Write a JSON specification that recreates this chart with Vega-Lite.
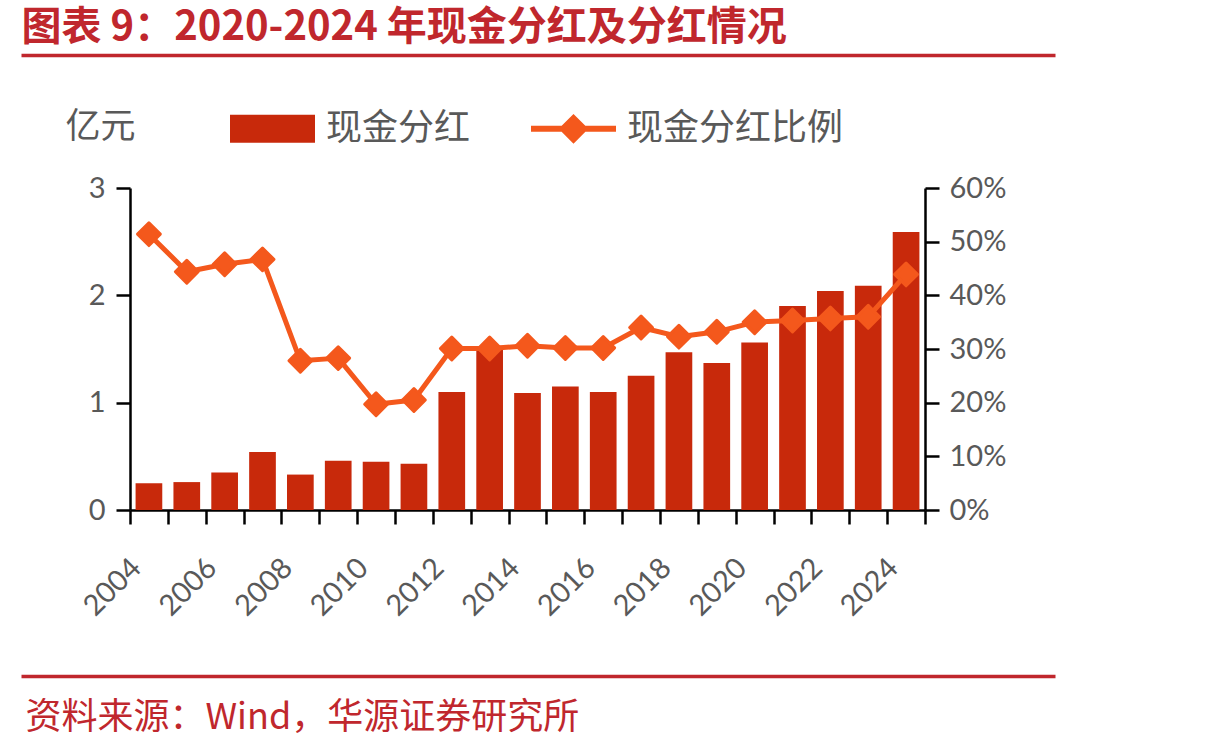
{
  "$schema": "https://vega.github.io/schema/vega-lite/v6.json",
  "width": 1034,
  "height": 621,
  "padding": {"left": 21, "top": 55, "right": 155, "bottom": 72},
  "autosize": {"type": "none"},
  "background": "white",
  "config": {
    "view": {"stroke": null},
    "font": "Lato"
  },
  "data": {
    "values": [
      {"year": 2004, "amount": 0.25, "ratio": 51.4},
      {"year": 2005, "amount": 0.26, "ratio": 44.4},
      {"year": 2006, "amount": 0.35, "ratio": 45.8},
      {"year": 2007, "amount": 0.54, "ratio": 46.7},
      {"year": 2008, "amount": 0.33, "ratio": 27.8},
      {"year": 2009, "amount": 0.46, "ratio": 28.3},
      {"year": 2010, "amount": 0.45, "ratio": 19.7},
      {"year": 2011, "amount": 0.43, "ratio": 20.5},
      {"year": 2012, "amount": 1.10, "ratio": 30.1},
      {"year": 2013, "amount": 1.51, "ratio": 30.1},
      {"year": 2014, "amount": 1.09, "ratio": 30.6},
      {"year": 2015, "amount": 1.15, "ratio": 30.2},
      {"year": 2016, "amount": 1.10, "ratio": 30.2},
      {"year": 2017, "amount": 1.25, "ratio": 34.0},
      {"year": 2018, "amount": 1.47, "ratio": 32.3},
      {"year": 2019, "amount": 1.37, "ratio": 33.2},
      {"year": 2020, "amount": 1.56, "ratio": 35.0},
      {"year": 2021, "amount": 1.90, "ratio": 35.3},
      {"year": 2022, "amount": 2.04, "ratio": 35.7},
      {"year": 2023, "amount": 2.09, "ratio": 36.0},
      {"year": 2024, "amount": 2.59, "ratio": 43.9}
    ]
  },
  "layer": [
    {
      "mark": {"type": "bar", "width": {"band": 0.705}},
      "encoding": {
        "x": {
          "field": "year",
          "type": "ordinal",
          "scale": {"type": "band", "range": [109, 904], "paddingInner": 0, "paddingOuter": 0},
          "axis": {
            "orient": "bottom",
            "offset": -166,
            "title": null,
            "domainColor": "#000000",
            "domainWidth": 2.5,
            "tickBand": "extent",
            "tickColor": "#000000",
            "tickWidth": 2.5,
            "tickSize": 14,
            "labelExpr": "datum.value % 2 == 0 ? datum.value : ''",
            "labelAngle": -45,
            "labelAlign": "right",
            "labelBaseline": "middle",
            "labelPadding": 39,
            "labelOffset": -13,
            "labelFont": "Lato",
            "labelFontSize": 29,
            "labelColor": "#595959",
            "labelOverlap": false,
            "labelBound": false,
            "labelFlush": false
          }
        },
        "y": {
          "field": "amount",
          "type": "quantitative",
          "scale": {"domain": [0, 3], "range": [455, 133], "nice": false, "zero": true},
          "axis": {
            "orient": "left",
            "offset": -109,
            "values": [0, 1, 2, 3],
            "grid": false,
            "domainColor": "#000000",
            "domainWidth": 2.5,
            "tickColor": "#000000",
            "tickWidth": 2.5,
            "tickSize": 14,
            "labelFont": "Lato",
            "labelFontSize": 29,
            "labelColor": "#595959",
            "labelPadding": 11,
            "title": "亿元",
            "titleAngle": 0,
            "titleAlign": "left",
            "titleBaseline": "alphabetic",
            "titleX": -65,
            "titleY": 82,
            "titleFont": "Noto Sans CJK SC",
            "titleFontSize": 35,
            "titleFontWeight": "normal",
            "titleColor": "#595959"
          }
        },
        "color": {
          "datum": "现金分红",
          "type": "nominal",
          "scale": {"domain": ["现金分红", "现金分红比例"], "range": ["#c8290b", "#f4581c"]},
          "legend": {
            "title": null,
            "orient": "none",
            "legendX": 209,
            "legendY": 31,
            "direction": "horizontal",
            "columns": 2,
            "padding": 0,
            "symbolSize": 7225,
            "labelOffset": 11,
            "columnPadding": 60,
            "labelFont": "Noto Sans CJK SC",
            "labelFontSize": 36,
            "labelColor": "#595959",
            "labelLimit": 500,
            "encode": {
              "symbols": {
                "update": {
                  "shape": {"signal": "datum.value === '现金分红' ? 'M-1,-0.33H1V0.33H-1Z' : 'M-1,-0.07H1V0.07H-1Z M-0.35,0L0,-0.35L0.35,0L0,0.35Z'"},
                  "fill": {"signal": "datum.value === '现金分红' ? '#c8290b' : '#f4581c'"},
                  "stroke": {"value": "transparent"},
                  "strokeWidth": {"value": 0},
                  "opacity": {"value": 1}
                }
              }
            }
          }
        }
      }
    },
    {
      "mark": {"type": "line", "strokeWidth": 5, "strokeJoin": "round"},
      "encoding": {
        "x": {
          "field": "year",
          "type": "quantitative",
          "scale": {"domain": [2000.6207, 2027.934], "nice": false, "zero": false},
          "axis": {
            "orient": "top",
            "labels": false,
            "ticks": false,
            "grid": false,
            "domainColor": "#c0272d",
            "domainWidth": 3.5,
            "title": "图表 9：2020-2024 年现金分红及分红情况",
            "titleAnchor": "start",
            "titleAlign": "left",
            "titleBaseline": "alphabetic",
            "titleX": 0,
            "titleY": -16,
            "titleFont": "Noto Sans CJK SC",
            "titleFontSize": 40,
            "titleFontWeight": "bold",
            "titleColor": "#c0272d"
          }
        },
        "y": {
          "field": "ratio",
          "type": "quantitative",
          "scale": {"domain": [0, 60], "range": [455, 133], "nice": false},
          "axis": {
            "orient": "right",
            "offset": -130,
            "values": [0, 10, 20, 30, 40, 50, 60],
            "labelExpr": "datum.value + '%'",
            "grid": false,
            "title": null,
            "domainColor": "#000000",
            "domainWidth": 2.5,
            "tickColor": "#000000",
            "tickWidth": 2.5,
            "tickSize": 14,
            "labelFont": "Lato",
            "labelFontSize": 29,
            "labelColor": "#595959",
            "labelPadding": 10
          }
        },
        "color": {"datum": "现金分红比例", "type": "nominal"}
      }
    },
    {
      "mark": {"type": "point", "shape": "diamond", "filled": true, "size": 520, "stroke": "#f4581c", "strokeWidth": 3, "strokeJoin": "round", "opacity": 1},
      "encoding": {
        "x": {
          "field": "year",
          "type": "quantitative",
          "scale": {"domain": [2000.6207, 2027.934], "nice": false, "zero": false},
          "axis": {
            "orient": "bottom",
            "labels": false,
            "ticks": false,
            "grid": false,
            "domainColor": "#c0272d",
            "domainWidth": 3.5,
            "title": "资料来源：Wind，华源证券研究所",
            "titleAnchor": "start",
            "titleAlign": "left",
            "titleBaseline": "alphabetic",
            "titleX": 4,
            "titleY": 52,
            "titleFont": "Noto Sans CJK SC",
            "titleFontSize": 36,
            "titleFontWeight": "normal",
            "titleColor": "#c0272d"
          }
        },
        "y": {
          "field": "ratio",
          "type": "quantitative",
          "scale": {"domain": [0, 60], "range": [455, 133], "nice": false},
          "axis": null
        },
        "color": {"datum": "现金分红比例", "type": "nominal"}
      }
    }
  ],
  "resolve": {
    "scale": {"x": "independent", "y": "independent"},
    "axis": {"x": "independent", "y": "independent"}
  }
}
